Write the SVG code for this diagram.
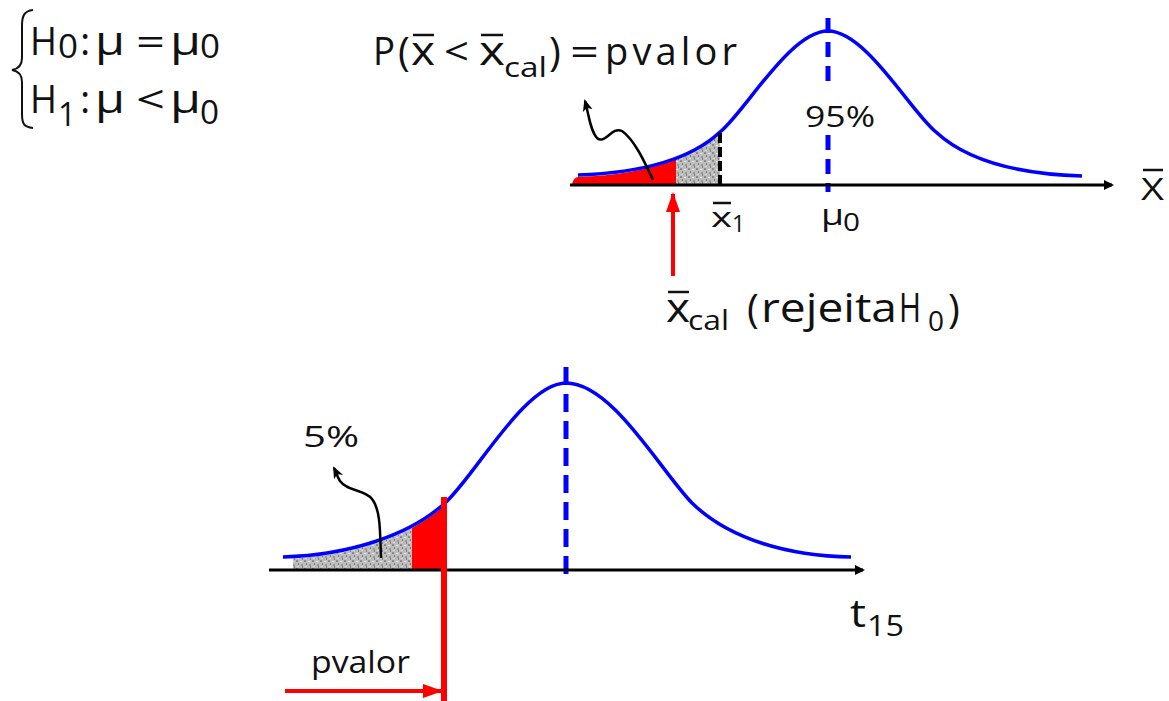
<svg xmlns="http://www.w3.org/2000/svg" width="1169" height="701" viewBox="0 0 1169 701">
<style>
.t{font-family:"Open Sans","Noto Sans","Liberation Sans",sans-serif;fill:#111;}
.curve{fill:none;stroke:#0000ff;stroke-width:3.5;}
.axis{stroke:#000;stroke-width:3;fill:none;}
.bar{stroke:#111;stroke-width:2.5;}
.vdash{stroke:#0000ff;stroke-width:5;fill:none;}
.squig{fill:none;stroke:#000;stroke-width:2.5;}
.red{fill:#ff0000;}
.gray{fill:url(#noise);}
</style>
<defs>
<pattern id="noise" width="8" height="8" patternUnits="userSpaceOnUse">
<rect width="8" height="8" fill="#bdbdbd"/>
<rect x="0" y="0" width="2" height="2" fill="#8a8a8a"/>
<rect x="4" y="1" width="2" height="1" fill="#e6e6e6"/>
<rect x="2" y="3" width="1" height="2" fill="#7a7a7a"/>
<rect x="5" y="4" width="2" height="2" fill="#9a9a9a"/>
<rect x="1" y="6" width="2" height="1" fill="#e0e0e0"/>
<rect x="6" y="6" width="1" height="2" fill="#808080"/>
<rect x="3" y="6" width="1" height="1" fill="#a0a0a0"/>
</pattern>
<marker id="ahBlack" markerWidth="10" markerHeight="10" refX="8" refY="5" orient="auto" markerUnits="userSpaceOnUse">
<path d="M0,0 L10,5 L0,10 Z" fill="#000"/>
</marker>
<marker id="ahSmall" markerWidth="12" markerHeight="12" refX="10" refY="6" orient="auto" markerUnits="userSpaceOnUse">
<path d="M0,1 L12,6 L0,11 L3,6 Z" fill="#000"/>
</marker>
<marker id="ahRed" markerWidth="20" markerHeight="14" refX="18" refY="7" orient="auto" markerUnits="userSpaceOnUse">
<path d="M0,0 L20,7 L0,14 Z" fill="#ff0000"/>
</marker>
<clipPath id="cTopRed"><rect x="560" y="0" width="116" height="200"/></clipPath>
<clipPath id="cTopGray"><rect x="676" y="0" width="44" height="200"/></clipPath>
<clipPath id="cBotGray"><rect x="293" y="400" width="119" height="200"/></clipPath>
<clipPath id="cBotRed"><rect x="412" y="400" width="33" height="200"/></clipPath>
</defs>

<g id="hypotheses">
<path d="M33,10 C24,11 22,16 22,26 L22,58 C22,65 18,69 12,70 C18,71 22,75 22,82 L22,114 C22,124 24,127 33,128" fill="none" stroke="#111" stroke-width="2"/>
<text class="t" font-size="39" x="30" y="55" textLength="27" lengthAdjust="spacingAndGlyphs">H</text>
<text class="t" font-size="32" x="58" y="58" textLength="20" lengthAdjust="spacingAndGlyphs">0</text>
<text class="t" font-size="39" x="80" y="55">:</text>
<text class="t" font-size="41" x="95" y="55" textLength="30" lengthAdjust="spacingAndGlyphs">μ</text>
<text class="t" font-size="39" x="136" y="55" textLength="29" lengthAdjust="spacingAndGlyphs">=</text>
<text class="t" font-size="41" x="170" y="55" textLength="31" lengthAdjust="spacingAndGlyphs">μ</text>
<text class="t" font-size="32" x="200" y="58" textLength="20" lengthAdjust="spacingAndGlyphs">0</text>
<text class="t" font-size="39" x="30" y="113" textLength="27" lengthAdjust="spacingAndGlyphs">H</text>
<text class="t" font-size="32" x="58" y="126" textLength="18" lengthAdjust="spacingAndGlyphs">1</text>
<text class="t" font-size="39" x="80" y="113">:</text>
<text class="t" font-size="41" x="95" y="113" textLength="30" lengthAdjust="spacingAndGlyphs">μ</text>
<text class="t" font-size="39" x="136" y="113" textLength="29" lengthAdjust="spacingAndGlyphs">&lt;</text>
<text class="t" font-size="41" x="170" y="113" textLength="31" lengthAdjust="spacingAndGlyphs">μ</text>
<text class="t" font-size="32" x="200" y="124" textLength="19" lengthAdjust="spacingAndGlyphs">0</text>
</g>

<g id="formula">
<text class="t" font-size="38" x="373" y="65" textLength="22" lengthAdjust="spacingAndGlyphs">P</text>
<text class="t" font-size="40" x="398" y="66">(</text>
<text class="t" font-size="40" x="411" y="65" textLength="24" lengthAdjust="spacingAndGlyphs">x</text>
<text class="t" font-size="38" x="444" y="65" textLength="25" lengthAdjust="spacingAndGlyphs">&lt;</text>
<text class="t" font-size="40" x="479" y="65" textLength="26" lengthAdjust="spacingAndGlyphs">x</text>
<text class="t" font-size="27" x="504" y="77" textLength="43" lengthAdjust="spacingAndGlyphs">cal</text>
<text class="t" font-size="40" x="549" y="66">)</text>
<text class="t" font-size="38" x="570" y="65" textLength="29" lengthAdjust="spacingAndGlyphs">=</text>
<text class="t" font-size="38" x="605" y="65" textLength="132" lengthAdjust="spacing">pvalor</text>
<line class="bar" x1="413" y1="35" x2="434" y2="35" stroke-width="3"/>
<line class="bar" x1="481" y1="35" x2="503" y2="35" stroke-width="3"/>
</g>

<g id="top-chart">
<path class="red" clip-path="url(#cTopRed)" d="M572,186 C572,181 575,177 578,177 C640,175 690,161 720,133 C745,113 790,32 828,32 L828,185 L572,186 Z"/>
<path class="gray" clip-path="url(#cTopGray)" d="M578,177 C640,175 690,161 720,133 L720,185 L578,185 Z"/>
<path class="curve" d="M578,175 C640,173 690,160 720,132 C745,112 790,31 828,31 C866,31 911,112 936,132 C966,160 1016,174 1082,176"/>
<line x1="720" y1="133" x2="720" y2="185" stroke="#000" stroke-width="4" stroke-dasharray="10 4"/>
<line class="vdash" x1="828" y1="18" x2="828" y2="90" stroke-dasharray="15 9"/>
<line class="vdash" x1="828" y1="135" x2="828" y2="192" stroke-dasharray="15 9"/>
<line class="axis" x1="570" y1="185" x2="1112" y2="185" marker-end="url(#ahBlack)"/>
<text class="t" font-size="30" x="805" y="127" textLength="70" lengthAdjust="spacingAndGlyphs">95%</text>
<text class="t" font-size="28" x="711" y="227" textLength="21" lengthAdjust="spacingAndGlyphs">x</text>
<text class="t" font-size="23" x="732" y="232" textLength="13" lengthAdjust="spacingAndGlyphs">1</text>
<line class="bar" x1="713" y1="203" x2="731" y2="203" stroke-width="2"/>
<text class="t" font-size="29" x="821" y="225" textLength="23" lengthAdjust="spacingAndGlyphs">μ</text>
<text class="t" font-size="25" x="843" y="231" textLength="17" lengthAdjust="spacingAndGlyphs">0</text>
<text class="t" font-size="31" x="1141" y="200" textLength="23" lengthAdjust="spacingAndGlyphs">X</text>
<line class="bar" x1="1143" y1="170" x2="1163" y2="170" stroke-width="2"/>
</g>

<g id="xcal-label">
<text class="t" font-size="41" x="666" y="322" textLength="24" lengthAdjust="spacingAndGlyphs">x</text>
<text class="t" font-size="28" x="688" y="330" textLength="41" lengthAdjust="spacingAndGlyphs">cal</text>
<text class="t" font-size="40" x="747" y="323">(<tspan x="761" y="322" textLength="136" lengthAdjust="spacingAndGlyphs">rejeita</tspan><tspan x="899" y="322" textLength="22" lengthAdjust="spacingAndGlyphs">H</tspan><tspan x="928" y="331" font-size="28">0</tspan><tspan x="948" y="323">)</tspan></text>
<line class="bar" x1="668" y1="292" x2="689" y2="292" stroke-width="3"/>
</g>

<g id="bottom-chart">
<path class="gray" clip-path="url(#cBotGray)" d="M283,559 C350,557 410,537 445,505 C475,478 525,385 566,385 L566,570 L283,570 Z"/>
<path class="red" clip-path="url(#cBotRed)" d="M283,559 C350,557 410,537 445,505 C475,478 525,385 566,385 L566,570 L283,570 Z"/>
<path class="curve" d="M283,557 C350,555 410,535 445,503 C475,476 525,383 566,383 C612,383 660,470 692,503 C730,540 790,556 851,557"/>
<line class="vdash" x1="566" y1="367" x2="566" y2="578" stroke-dasharray="18 9"/>
<line class="axis" x1="269" y1="570" x2="863" y2="570" marker-end="url(#ahBlack)"/>
<text class="t" font-size="30" x="303" y="447" textLength="56" lengthAdjust="spacingAndGlyphs">5%</text>
<text class="t" font-size="38" x="850" y="627" textLength="16" lengthAdjust="spacingAndGlyphs">t</text>
<text class="t" font-size="30" x="867" y="636" textLength="37" lengthAdjust="spacingAndGlyphs">15</text>
<text class="t" font-size="31" x="311" y="673" textLength="99" lengthAdjust="spacingAndGlyphs">pvalor</text>
</g>

<g id="connectors">
<path class="squig" d="M653,180 C646,165 635,140 622,131 C612,126 605,145 597,138 C590,130 589,115 585,101" marker-end="url(#ahSmall)"/>
<path class="squig" d="M381,558 C380,535 381,510 372,499 C364,489 348,492 340,481 C337,476 336,472 334,468" marker-end="url(#ahSmall)"/>
<line x1="673" y1="276" x2="673" y2="194" stroke="#ff0000" stroke-width="4" marker-end="url(#ahRed)"/>
<line x1="444" y1="497" x2="444" y2="701" stroke="#ff0000" stroke-width="6"/>
<line x1="285" y1="691" x2="441" y2="691" stroke="#ff0000" stroke-width="4" marker-end="url(#ahRed)"/>
</g>
</svg>
